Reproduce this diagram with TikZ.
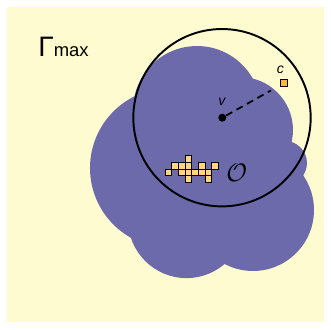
\documentclass[tikz,border=0pt]{standalone}
\usepackage{fontspec}
\setmainfont{Liberation Sans}
\usepackage{tikz}
\usetikzlibrary{calc}
\definecolor{paleyellow}{RGB}{255, 251, 208}
\definecolor{blobpurple}{RGB}{108, 106, 170}
\definecolor{cellorange}{RGB}{255, 213, 128}
\definecolor{targetorange}{RGB}{248, 182, 72}

\begin{document}
\begin{tikzpicture}[x=0.02cm, y=-0.02cm,
  blob/.style={fill=blobpurple},
  cell/.style={draw=black, fill=cellorange, line width=0.5pt, minimum size=0.1333cm, inner sep=0pt},
  target/.style={draw=black, fill=targetorange, line width=0.5pt, minimum size=0.14cm, inner sep=0pt},
  rangecircle/.style={draw=black, circle, line width=1.1pt, minimum size=3.548cm, inner sep=0pt},
  vdot/.style={fill=black, circle, minimum size=0.16cm, inner sep=0pt},
  lbl/.style={inner sep=0pt, font=\fontsize{8}{9}\selectfont\itshape},
  dashline/.style={line width=1pt, dash pattern=on 4pt off 2.8pt, shorten >=0.2cm}
]

\useasboundingbox (0,0) rectangle (331,329);
\fill[paleyellow] (7,7) rectangle (324,322);

% Obstacle region (union of disks)
\fill[blob] (170,168) circle[radius=1.6cm];
\fill[blob] (197,110) circle[radius=1.28cm];
\fill[blob] (240,130) circle[radius=1.06cm];
\fill[blob] (285,163) circle[radius=0.44cm];
\fill[blob] (253,210) circle[radius=1.22cm];
\fill[blob] (186.5,219.6) circle[radius=1.17cm];

% Obstacle cells
\foreach \c/\r in {3/0, 1/1, 2/1, 3/1, 5/1, 7/1, 0/2, 2/2, 3/2, 4/2, 5/2, 6/2, 3/3, 6/3}
  \node[cell] (cell-\c-\r) at ({165+6.67*(\c+0.5)}, {155.7+6.67*(\r+0.5)}) {};

\node[inner sep=0pt, font=\fontsize{14}{16}\selectfont] (obst) at (236.7,172.7) {$\mathcal{O}$};

% Range around v
\node[rangecircle] (range) at (222,117.7) {};
\node[vdot] (v) at (222.3,117.7) {};
\node[lbl] (vlabel) at (222,102) {v};

\node[target] (c) at (283.7,83.3) {};
\node[lbl] (clabel) at (280.5,70) {c};

\draw[dashline] (v) -- (c);

% Label
\node[anchor=base west, inner sep=0pt] (gmax) at (38,56) {{\fontsize{16}{18}\selectfont Γ}{\fontsize{10.5}{12}\selectfont max}};

\end{tikzpicture}
\end{document}
